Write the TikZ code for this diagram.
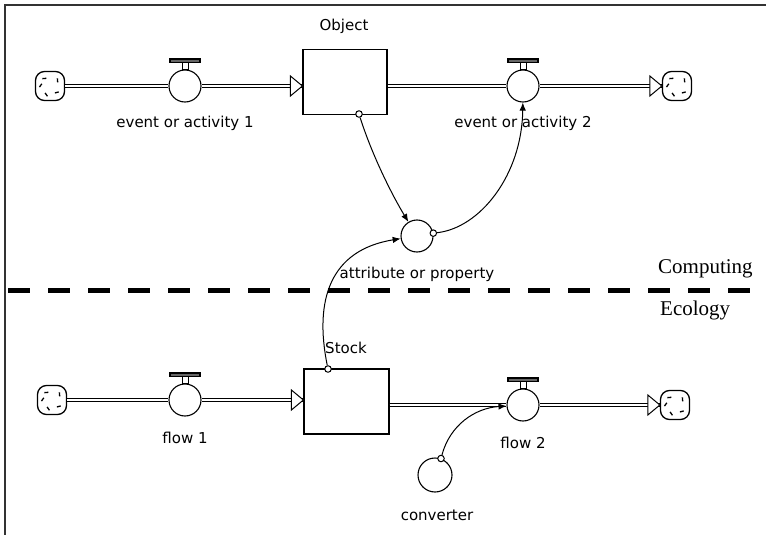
\documentclass[tikz,border=0pt]{standalone}
\usepackage{fontspec}
\setmainfont{DejaVu Sans}
\newfontfamily\sidefont{Liberation Serif}
\usetikzlibrary{arrows.meta,calc}

\tikzset{
  pipe/.style={double,double distance=1.8pt,line width=1.2pt},
  valve/.style={circle,draw,fill=white,minimum size=32pt,inner sep=0pt,line width=1.1pt},
  level/.style={draw,fill=white,minimum width=84pt,minimum height=65pt,line width=1.2pt},
  knob/.style={circle,draw,fill=white,minimum size=6.5pt,inner sep=0pt,line width=1pt},
  link/.style={line width=1pt,-{Latex[length=8pt,width=6.5pt]}},
  lbl/.style={font=\fontsize{15}{17}\selectfont,anchor=base,inner sep=0pt},
  side/.style={font=\sidefont\fontsize{21}{24}\selectfont,anchor=base west,inner sep=0pt},
  sink/.style={draw,fill=white,rounded corners=9pt,minimum size=29pt,inner sep=0pt,
    line width=1.3pt,
    path picture={
      \foreach \a in {25,115,165,235,305}
        \draw[line width=1.3pt] ($(path picture bounding box.center)+(\a:8.5pt)$) -- ++(\a+70:4pt);
    }},
}

\begin{document}
\begin{tikzpicture}[x=1pt,y=-1pt]
  \useasboundingbox (0,0) rectangle (766,535);
  % frame
  \draw[line width=1.8pt,black!80] (5,535) -- (5,5) -- (766,5);
  % divider
  \draw[line width=5pt,dash pattern=on 22pt off 18pt] (8,290) -- (766,290);
  \node[side] (comp) at (658,273) {Computing};
  \node[side] (eco) at (660,315) {Ecology};

  % computing row
  \node[sink] (cl1) at (50,86) {};
  \node[valve] (ev1) at (185,86) {};
  \node[level] (obj) at (345,82) {};
  \node[valve] (ev2) at (523,86) {};
  \node[sink] (cl2) at (677,86) {};
  \node[valve] (attr) at (417,236) {};

  % ecology row
  \node[sink] (cl3) at (52,400) {};
  \node[valve] (fl1) at (185,400) {};
  \node[level,minimum width=85pt] (stk) at (346.5,401.5) {};
  \node[valve] (fl2) at (523,405) {};
  \node[sink] (cl4) at (675,405) {};
  \node[valve,minimum size=34pt] (conv) at (435,475) {};

  % pipes
  \draw[pipe] (cl1) -- (ev1);
  \draw[pipe] (ev1) -- (ev1 -| obj.west);
  \draw[pipe] (obj.east |- ev2) -- (ev2);
  \draw[pipe] (ev2) -- (ev2 -| cl2.west);
  \draw[pipe] (cl3) -- (fl1);
  \draw[pipe] (fl1) -- (fl1 -| stk.west);
  \draw[pipe] (stk.east |- fl2) -- (fl2);
  \draw[pipe] (fl2) -- (fl2 -| cl4.west);
  \foreach \p in {{ev1 -| obj.west},{ev2 -| cl2.west},{fl1 -| stk.west},{fl2 -| cl4.west}}
    \draw[fill=white,line width=1pt] (\p) -- ++(-12pt,10pt) -- ++(0pt,-20pt) -- cycle;

  % valve handles
  \foreach \v in {ev1,ev2,fl1,fl2}{
    \draw[fill=white,line width=1pt] ([xshift=-3pt]\v.north) rectangle ([xshift=3pt,yshift=7pt]\v.north);
    \draw[fill=black!60,line width=1.2pt] ([xshift=-15pt,yshift=7pt]\v.north) rectangle ([xshift=15pt,yshift=10.5pt]\v.north);
  }

  % connectors
  \node[knob] (k1) at (359,114) {};
  \node[knob] (k2) at (attr.10) {};
  \node[knob] (k3) at (328,369) {};
  \node[knob] (k4) at (conv.70) {};
  \draw[link] (k1) .. controls (372,155) and (392,195) .. (attr);
  \draw[link] (k2) .. controls (480,228) and (522,175) .. (ev2);
  \draw[link] (k3) .. controls (314,300) and (330,250) .. (attr);
  \draw[link] (k4) .. controls (450,425) and (475,408) .. (fl2);

  % labels
  \node[lbl] (tobj) at (344,31) {Object};
  \node[lbl] (tev1) at (185,128) {event or activity 1};
  \node[lbl] (tev2) at (523,128) {event or activity 2};
  \node[lbl] (tattr) at (417,278) {attribute or property};
  \node[lbl] (tstk) at (346,353) {Stock};
  \node[lbl] (tfl1) at (185,443) {flow 1};
  \node[lbl] (tfl2) at (523,448) {flow 2};
  \node[lbl] (tconv) at (437,520) {converter};
\end{tikzpicture}
\end{document}
